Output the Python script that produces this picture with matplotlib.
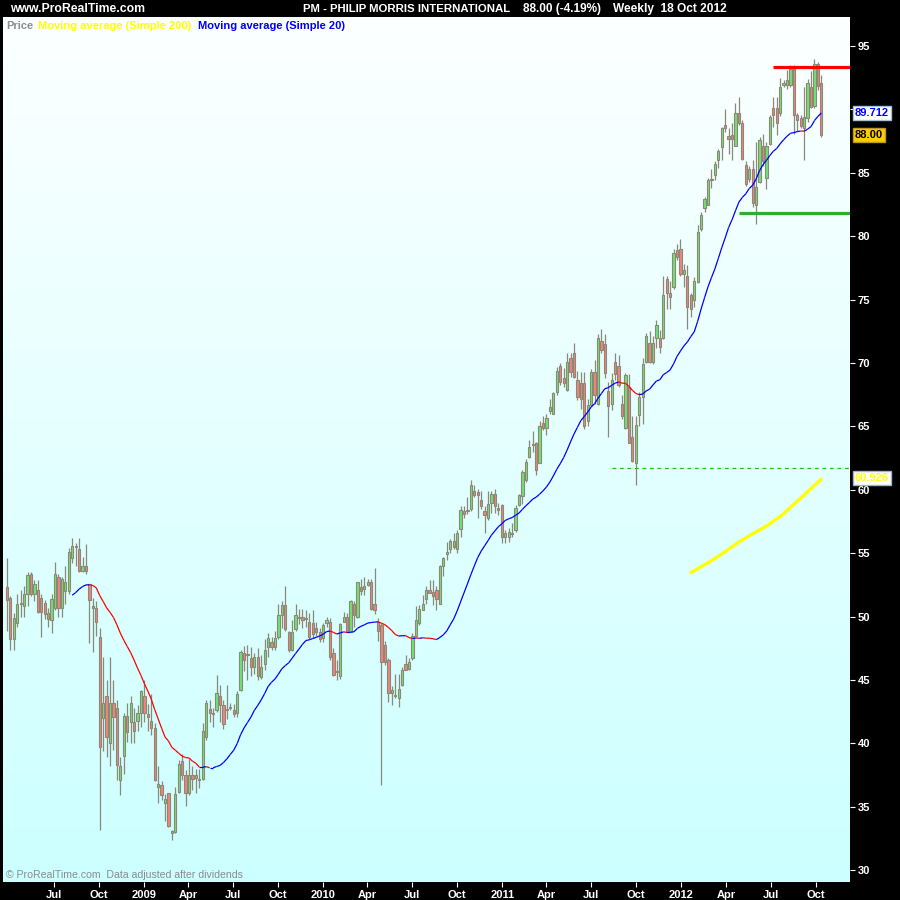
import numpy as np
import pandas as pd
import matplotlib
matplotlib.use('Agg')
import matplotlib.pyplot as plt
import matplotlib.dates as mdates
from matplotlib.collections import LineCollection
from matplotlib.patches import Rectangle
from matplotlib import font_manager

# ---------------- data (weekly candles, PM) ----------------
first_week = '2008-03-28'
opens = [52.3, 51.5, 48.2, 49.5, 51.0, 50.8, 51.8, 53.4, 51.8, 52.1,
         51.5, 51.1, 50.3, 49.7, 50.7, 53.1, 50.7, 52.0, 52.0, 54.6,
         55.6, 55.3, 53.6, 54.0, 52.6, 50.8, 50.65, 48.4, 42.0, 43.7,
         40.0, 43.2, 42.8, 37.1, 39.0, 42.2, 41.7, 41.7, 41.8, 42.4,
         43.7, 42.3, 41.8, 41.2, 36.6, 36.7, 35.3, 36.1, 32.9, 33.0,
         36.2, 38.6, 37.5, 36.1, 37.5, 37.3, 37.2, 37.2, 40.5, 42.7,
         42.3, 42.6, 43.7, 43.0, 42.6, 42.8, 42.6, 42.4, 44.2, 47.1,
         47.0, 46.7, 46.0, 46.8, 45.2, 46.3, 47.6, 48.0, 47.6, 48.4,
         50.1, 50.9, 48.8, 47.4, 49.0, 50.0, 50.0, 49.8, 49.6, 49.5,
         49.1, 48.8, 48.3, 49.5, 49.6, 47.1, 45.7, 45.3, 49.6, 50.0,
         48.9, 51.0, 50.0, 52.3, 52.2, 52.5, 52.7, 51.0, 49.6, 49.3,
         47.8, 46.6, 44.0, 43.8, 43.6, 44.6, 46.3, 45.9, 46.7, 48.5,
         49.5, 50.5, 51.4, 52.1, 51.95, 52.1, 51.0, 54.0, 54.9, 55.3,
         56.0, 55.3, 56.9, 58.3, 58.3, 58.5, 59.9, 59.8, 59.2, 58.35,
         57.8, 59.0, 59.7, 58.6, 58.8, 56.3, 56.3, 56.6, 56.8, 58.8,
         59.5, 60.8, 62.6, 63.65, 63.7, 62.1, 65.3, 64.9, 66.2, 66.0,
         67.7, 69.8, 68.8, 67.9, 70.4, 70.8, 68.7, 68.4, 68.4, 65.4,
         66.7, 69.3, 66.8, 71.7, 71.5, 67.8, 66.8, 70.1, 69.8, 66.8,
         64.9, 68.1, 64.2, 62.1, 65.9, 67.35, 70.1, 71.6, 70.1, 71.95,
         71.95, 72.0, 76.6, 75.5, 75.97, 78.9, 79.0, 77.0, 76.9, 75.4,
         75.0, 76.4, 80.6, 82.2, 82.5, 84.4, 84.8, 86.0, 87.0, 88.8,
         87.9, 88.0, 87.1, 89.7, 88.9, 85.6, 84.5, 85.3, 82.5, 84.3,
         87.1, 84.6, 87.3, 90.1, 90.1, 89.7, 91.9, 91.9, 91.9, 93.2,
         89.6, 89.3, 88.5, 89.3, 91.8, 90.3, 93.6, 92.05]
highs = [54.6, 51.6, 50.3, 51.8, 52.1, 52.4, 53.5, 53.5, 52.9, 52.9,
         51.8, 51.3, 50.7, 51.8, 54.3, 53.4, 53.1, 54.0, 55.4, 56.2,
         55.8, 56.2, 54.7, 55.7, 52.6, 51.5, 51.2, 49.1, 46.8, 45.0,
         46.8, 45.0, 43.4, 38.9, 42.4, 43.2, 43.7, 42.8, 43.0, 44.2,
         45.0, 43.1, 43.9, 41.6, 38.2, 37.0, 36.0, 36.1, 33.2, 36.6,
         38.7, 39.2, 37.9, 38.8, 38.2, 38.0, 38.0, 41.6, 43.4, 43.4,
         42.8, 45.4, 44.6, 43.4, 44.6, 43.2, 43.1, 44.1, 47.4, 47.7,
         47.8, 47.6, 47.1, 47.5, 47.0, 48.2, 48.7, 48.4, 48.9, 51.0,
         51.2, 52.4, 48.9, 49.7, 51.0, 50.6, 50.6, 50.5, 50.3, 50.5,
         49.6, 49.1, 49.5, 50.0, 49.9, 47.5, 46.6, 49.5, 50.4, 50.3,
         51.3, 51.2, 52.75, 53.0, 53.1, 53.0, 53.0, 53.8, 49.9, 49.5,
         48.1, 46.7, 44.5, 45.5, 45.5, 46.0, 47.0, 46.7, 48.7, 50.8,
         50.9, 51.7, 52.4, 52.9, 52.9, 52.4, 54.1, 54.7, 55.9, 56.1,
         56.6, 56.8, 58.7, 58.7, 59.4, 60.8, 60.4, 60.1, 59.9, 58.7,
         59.9, 59.9, 60.1, 59.0, 58.9, 56.8, 57.0, 57.4, 58.8, 59.7,
         61.6, 62.4, 63.9, 64.6, 63.8, 65.4, 65.8, 66.0, 67.2, 67.7,
         69.7, 70.0, 69.6, 70.8, 70.8, 71.6, 69.4, 69.3, 69.3, 67.2,
         69.5, 70.2, 72.3, 72.7, 72.3, 68.5, 69.2, 70.8, 70.6, 67.5,
         69.2, 69.1, 65.8, 65.8, 67.7, 70.4, 72.4, 72.5, 72.1, 73.4,
         72.6, 76.9, 76.9, 76.5, 79.0, 79.4, 79.8, 77.8, 77.7, 75.5,
         76.8, 80.9, 81.9, 83.1, 84.6, 85.3, 85.9, 86.9, 88.6, 90.0,
         88.5, 88.9, 90.5, 90.95, 89.2, 85.9, 85.5, 86.0, 87.45, 87.8,
         88.1, 87.4, 89.6, 91.0, 91.0, 92.45, 92.3, 93.1, 93.5, 93.5,
         89.7, 89.6, 91.8, 92.4, 93.0, 94.0, 93.75, 92.7]
lows = [48.9, 47.4, 47.4, 49.2, 50.0, 50.0, 50.8, 51.6, 51.2, 50.3,
        48.4, 49.8, 49.2, 48.7, 50.5, 50.0, 50.0, 51.0, 51.8, 54.2,
        54.0, 53.5, 53.5, 53.4, 47.9, 47.2, 48.5, 33.2, 39.4, 38.9,
        38.2, 39.5, 37.1, 35.9, 37.6, 40.1, 40.0, 40.0, 41.0, 41.3,
        41.7, 41.0, 40.7, 37.0, 35.3, 35.5, 33.9, 33.4, 32.4, 32.9,
        36.1, 37.1, 35.1, 35.9, 36.3, 36.1, 36.5, 37.1, 40.3, 41.7,
        41.3, 42.5, 41.7, 41.1, 41.9, 42.6, 42.1, 42.1, 44.1, 45.7,
        45.0, 45.3, 45.5, 45.0, 45.1, 45.8, 46.8, 47.4, 47.4, 48.2,
        49.1, 48.9, 47.2, 47.3, 48.9, 49.4, 49.1, 49.2, 48.2, 48.3,
        48.5, 48.0, 48.0, 49.2, 46.6, 45.3, 45.0, 45.05, 49.6, 48.8,
        48.9, 49.2, 49.9, 51.7, 51.7, 52.4, 50.5, 50.2, 48.1, 36.7,
        46.2, 43.3, 43.0, 43.6, 42.9, 44.5, 45.8, 45.8, 46.6, 48.4,
        49.3, 50.5, 51.0, 51.9, 50.9, 50.5, 51.0, 53.2, 54.5, 55.0,
        55.3, 55.0, 56.3, 57.8, 58.1, 58.3, 59.4, 57.75, 58.5, 56.6,
        57.6, 58.2, 58.2, 58.0, 55.8, 55.8, 55.9, 56.3, 56.7, 58.7,
        58.9, 60.6, 62.5, 63.0, 61.2, 62.1, 64.7, 64.3, 66.0, 66.0,
        67.5, 68.3, 68.1, 67.8, 68.9, 68.8, 67.1, 66.4, 64.8, 65.0,
        66.6, 66.8, 66.7, 70.8, 68.8, 64.2, 66.3, 68.7, 68.1, 65.6,
        64.8, 63.7, 62.2, 60.4, 65.0, 65.2, 70.0, 70.0, 69.9, 71.2,
        70.8, 71.9, 74.3, 74.3, 75.8, 78.1, 76.9, 76.0, 72.7, 73.6,
        74.4, 76.3, 80.4, 81.9, 82.5, 83.8, 84.4, 85.4, 86.0, 88.2,
        86.5, 86.0, 87.1, 88.8, 86.0, 84.0, 84.3, 82.3, 81.0, 84.2,
        85.5, 83.7, 87.2, 88.6, 88.0, 89.5, 91.8, 91.6, 91.8, 88.1,
        88.3, 88.5, 86.0, 89.0, 90.1, 90.1, 91.5, 87.8]
closes = [51.3, 48.2, 49.9, 51.0, 51.1, 51.8, 53.3, 51.8, 52.6, 50.4,
          50.4, 50.2, 49.8, 51.4, 53.4, 50.7, 53.0, 52.7, 55.1, 55.6,
          55.5, 53.6, 54.0, 53.6, 51.3, 50.7, 49.6, 39.7, 43.2, 40.5,
          43.2, 42.1, 38.3, 38.2, 42.2, 40.9, 43.2, 41.0, 42.4, 44.1,
          42.4, 42.1, 41.2, 37.1, 36.8, 35.9, 35.6, 33.5, 33.1, 36.0,
          38.4, 37.5, 36.1, 37.5, 37.2, 37.5, 37.1, 41.0, 43.2, 42.4,
          42.4, 44.0, 43.0, 41.5, 42.7, 42.9, 42.3, 43.9, 47.2, 46.6,
          46.95, 46.0, 46.8, 45.3, 46.0, 47.4, 48.3, 47.6, 48.3, 50.1,
          50.9, 49.0, 47.4, 48.8, 50.1, 49.9, 49.7, 49.9, 48.4, 48.6,
          48.8, 48.2, 49.3, 49.7, 46.8, 45.4, 45.6, 49.4, 50.0, 48.9,
          51.2, 50.1, 52.7, 52.0, 52.4, 52.7, 50.6, 50.5, 48.9, 46.4,
          46.4, 44.0, 44.2, 43.7, 44.3, 45.8, 45.8, 46.4, 48.5, 49.7,
          50.6, 51.0, 52.1, 51.9, 51.6, 51.4, 54.0, 54.6, 55.1, 56.0,
          55.5, 56.6, 58.4, 58.1, 58.4, 60.4, 59.6, 59.6, 58.7, 58.0,
          58.9, 59.7, 58.7, 58.4, 56.3, 56.6, 56.7, 56.5, 58.6, 59.6,
          61.4, 62.2, 63.4, 63.55, 61.6, 65.0, 64.9, 65.7, 66.5, 67.6,
          69.4, 68.5, 68.4, 70.1, 69.3, 68.9, 67.3, 67.2, 65.0, 66.7,
          69.3, 67.5, 72.0, 71.0, 69.2, 66.6, 68.7, 69.1, 68.3, 65.8,
          69.05, 63.7, 62.3, 65.1, 67.3, 69.9, 72.1, 70.1, 71.6, 73.0,
          71.3, 75.4, 75.5, 75.2, 78.7, 78.4, 77.0, 77.3, 74.4, 74.3,
          76.5, 80.3, 81.7, 82.9, 84.4, 84.5, 85.7, 86.7, 88.5, 88.5,
          87.7, 87.7, 89.7, 88.9, 86.1, 84.1, 85.3, 82.6, 83.9, 87.6,
          85.9, 87.1, 89.4, 89.6, 88.9, 91.8, 92.1, 92.3, 93.2, 89.6,
          89.2, 88.7, 89.4, 92.1, 90.2, 93.6, 91.85, 88.0]

ma_short_len = 20
ma_long_len = 200
resistance_level = 93.34
resistance_from = '2012-07-05'
support_level = 81.83
support_from = '2012-04-27'
dashed_level = 61.72
dashed_from = '2011-08-12'
label_ma20 = 89.712
label_last = 88.00
label_ma200 = 60.926
title_text = 'PM - PHILIP MORRIS INTERNATIONAL'
change_text = '88.00 (-4.19%)'
period_text = 'Weekly  18 Oct 2012'
yticks = [30, 35, 40, 45, 50, 55, 60, 65, 70, 75, 80, 85, 90, 95]
hidden_ytick_labels = [90]   # covered by the 89.712 marker in the reference

# ---------------- derived ----------------
o = np.array(opens); h = np.array(highs); l = np.array(lows); c = np.array(closes)
n = len(c)
dates = pd.date_range(start=first_week, periods=n, freq='7D')
x = mdates.date2num(dates.to_pydatetime())
sma20 = pd.Series(c).rolling(ma_short_len).mean().values
sma200 = pd.Series(c).rolling(ma_long_len).mean().values

# fonts
avail = {f.name for f in font_manager.fontManager.ttflist}
narrow = 'Liberation Sans Narrow' if 'Liberation Sans Narrow' in avail else 'Liberation Sans'
base = 'Liberation Sans'

W, H = 900, 900
fig = plt.figure(figsize=(9, 9), dpi=100, facecolor='black')
L_px, R_px, T_px, B_px = 3, 850, 17, 882
ax = fig.add_axes([L_px / W, 1 - B_px / H, (R_px - L_px) / W, (B_px - T_px) / H])
ax.set_facecolor('white')

xmin = mdates.date2num(pd.Timestamp('2008-03-20'))
xmax = mdates.date2num(pd.Timestamp('2012-12-09 08:00'))
ymin, ymax = 29.07, 97.29
ax.set_xlim(xmin, xmax)
ax.set_ylim(ymin, ymax)

# gradient background
top = np.array([0.99, 1.0, 1.0]); bot = np.array([0.80, 1.0, 1.0])
t = np.linspace(0, 1, 256)[:, None]
grad = (top[None, :] * (1 - t) + bot[None, :] * t)[:, None, :]
ax.imshow(grad, extent=[xmin, xmax, ymin, ymax], aspect='auto', zorder=0,
          interpolation='bilinear', origin='upper')

edge = '#8c8878'
up_col = '#6ee46e'
dn_col = '#f2827a'
body_w = 4.6
ax.vlines(x, l, h, color=edge, linewidth=0.9, zorder=2)
for xi, oi, ci in zip(x, o, c):
    lo, hi = min(oi, ci), max(oi, ci)
    hgt = max(hi - lo, 0.08)
    ax.add_patch(Rectangle((xi - body_w / 2, lo), body_w, hgt,
                           facecolor=up_col if ci >= oi else dn_col,
                           edgecolor=edge, linewidth=0.8, zorder=3))

# SMA 20 colored by slope
pts = np.column_stack([x, sma20])
segs, cols = [], []
for i in range(1, n):
    if np.isnan(sma20[i - 1]):
        continue
    segs.append([pts[i - 1], pts[i]])
    cols.append('#ff0000' if sma20[i] < sma20[i - 1] else '#0000ff')
ax.add_collection(LineCollection(segs, colors=cols, linewidths=0.9, zorder=4))

# SMA 200
ax.plot(x, sma200, color='#ffff00', linewidth=2.4, zorder=4, solid_capstyle='round')

# horizontal levels
ax.hlines(resistance_level, mdates.date2num(pd.Timestamp(resistance_from)), xmax,
          color='#ff0000', linewidth=2.3, zorder=5)
ax.hlines(support_level, mdates.date2num(pd.Timestamp(support_from)), xmax,
          color='#33aa33', linewidth=2.3, zorder=5)
ax.hlines(dashed_level, mdates.date2num(pd.Timestamp(dashed_from)), xmax,
          color='#22bb22', linewidth=0.9, linestyles=(0, (3, 3)), zorder=5)

# axes styling
for s in ax.spines.values():
    s.set_visible(False)
ax.yaxis.tick_right()
ax.set_yticks(yticks)
ax.set_yticklabels(['' if v in hidden_ytick_labels else str(v) for v in yticks])
ax.tick_params(axis='y', colors='white', length=3.5, width=0.8, pad=2,
               labelsize=8)
for lab in ax.get_yticklabels():
    lab.set_fontfamily(base); lab.set_fontweight('bold')

qt = pd.date_range('2008-07-01', '2012-10-01', freq='QS-JAN')
ax.set_xticks(mdates.date2num(qt.to_pydatetime()))
ax.set_xticklabels([str(d.year) if d.month == 1 else d.strftime('%b') for d in qt])
ax.tick_params(axis='x', colors='white', length=3.5, width=0.8, pad=2, labelsize=8)
for lab in ax.get_xticklabels():
    lab.set_fontfamily(base); lab.set_fontweight('bold')

# price labels on right axis
def side_label(val, txt, fc, tc, ec):
    ax.text(1 + 5 / (R_px - L_px), val, txt, transform=ax.get_yaxis_transform(),
            ha='left', va='center', fontsize=8, fontweight='bold', family=base,
            color=tc, clip_on=False, zorder=10,
            bbox=dict(boxstyle='square,pad=0.2', facecolor=fc, edgecolor=ec, linewidth=1))

side_label(label_ma20, f'{label_ma20:.3f}', 'white', '#0000ff', '#9fc3d8')
side_label(label_last, f'{label_last:.2f}', '#ffcc00', 'black', '#b89a20')
side_label(label_ma200, f'{label_ma200:.3f}', 'white', '#ffff00', '#9fb3c8')

# title bar
def ftext(px, py, s, **kw):
    fig.text(px / W, 1 - py / H, s, va='center', **kw)

ftext(10, 9, 'www.ProRealTime.com', color='white', fontsize=8.8, fontweight='bold', family=base)
ftext(303, 9, title_text, color='white', fontsize=8.2, fontweight='bold', family=narrow)
ftext(523, 9, change_text, color='white', fontsize=8.5, fontweight='bold', family=narrow)
ftext(613, 9, period_text, color='white', fontsize=8.6, fontweight='bold', family=narrow)

# legend line
ftext(6, 26, 'Price', color='#8c8c8c', fontsize=8, fontweight='bold', family=base)
ftext(38, 26, 'Moving average (Simple 200)', color='#ffff00', fontsize=8, fontweight='bold', family=base)
ftext(198, 26, 'Moving average (Simple 20)', color='#0000ff', fontsize=8, fontweight='bold', family=base)

# footer note
ftext(6, 875, '\u00a9 ProRealTime.com  Data adjusted after dividends', color='#8c8c8c',
      fontsize=7.6, family=base)

fig.savefig('out.png', dpi=100, facecolor='black')
